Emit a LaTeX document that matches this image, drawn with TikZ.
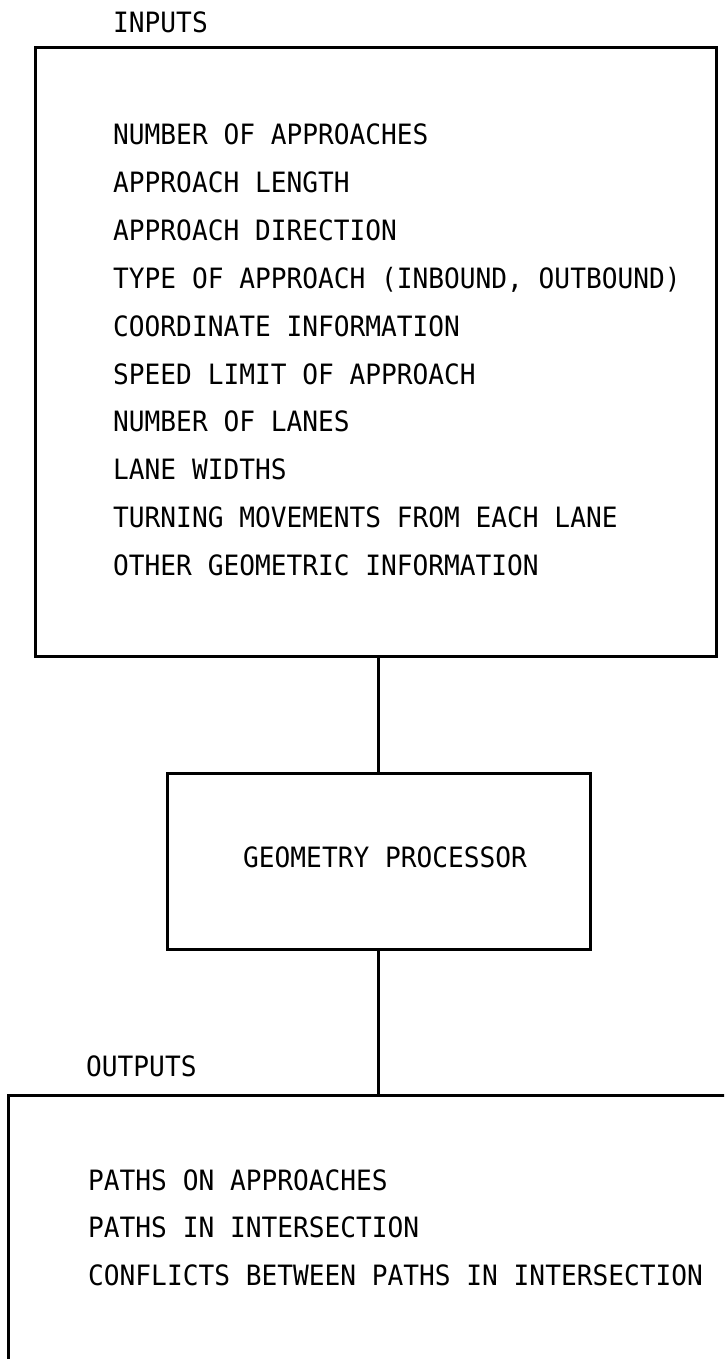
\documentclass[tikz,border=0pt]{standalone}
\usepackage{fontspec}
\setmonofont[FakeStretch=0.935]{DejaVu Sans Mono}
\begin{document}
\begin{tikzpicture}[x=1pt,y=-1pt,
  frame/.style={draw=black,line width=3pt,inner sep=0pt,outer sep=0pt},
  link/.style={draw=black,line width=2.8pt},
  txt/.style={anchor=base west,inner sep=0pt,font=\ttfamily\fontsize{28}{32}\selectfont}]
\clip (0,0) rectangle (724,1359);
\fill[white] (0,0) rectangle (724,1359);

% boxes
\node[frame,minimum width=680.5pt,minimum height=608pt] (inputs) at (375.75,352) {};
\node[frame,minimum width=423pt,minimum height=176pt] (geo) at (378.5,861) {};
\node[frame,minimum width=792pt,minimum height=325pt] (outputs) at (404,1257.5) {};

% connectors
\draw[link] (geo.north |- inputs.south) -- (geo.north);
\draw[link] (geo.south) -- (geo.south |- outputs.north);

% headings
\node[txt] (inlabel) at (113,33) {INPUTS};
\node[txt] (outlabel) at (86,1076) {OUTPUTS};

% input items
\node[txt] (i1) at (113,145.0) {NUMBER OF APPROACHES};
\node[txt] (i2) at (113,192.8) {APPROACH LENGTH};
\node[txt] (i3) at (113,240.6) {APPROACH DIRECTION};
\node[txt] (i4) at (113,288.4) {TYPE OF APPROACH (INBOUND, OUTBOUND)};
\node[txt] (i5) at (113,336.2) {COORDINATE INFORMATION};
\node[txt] (i6) at (113,384.0) {SPEED LIMIT OF APPROACH};
\node[txt] (i7) at (113,431.8) {NUMBER OF LANES};
\node[txt] (i8) at (113,479.6) {LANE WIDTHS};
\node[txt] (i9) at (113,527.4) {TURNING MOVEMENTS FROM EACH LANE};
\node[txt] (i10) at (113,575.2) {OTHER GEOMETRIC INFORMATION};

% processor
\node[txt] (geotext) at (243,867) {GEOMETRY PROCESSOR};

% output items
\node[txt] (o1) at (88,1190) {PATHS ON APPROACHES};
\node[txt] (o2) at (88,1237) {PATHS IN INTERSECTION};
\node[txt] (o3) at (88,1285) {CONFLICTS BETWEEN PATHS IN INTERSECTION};
\end{tikzpicture}
\end{document}
